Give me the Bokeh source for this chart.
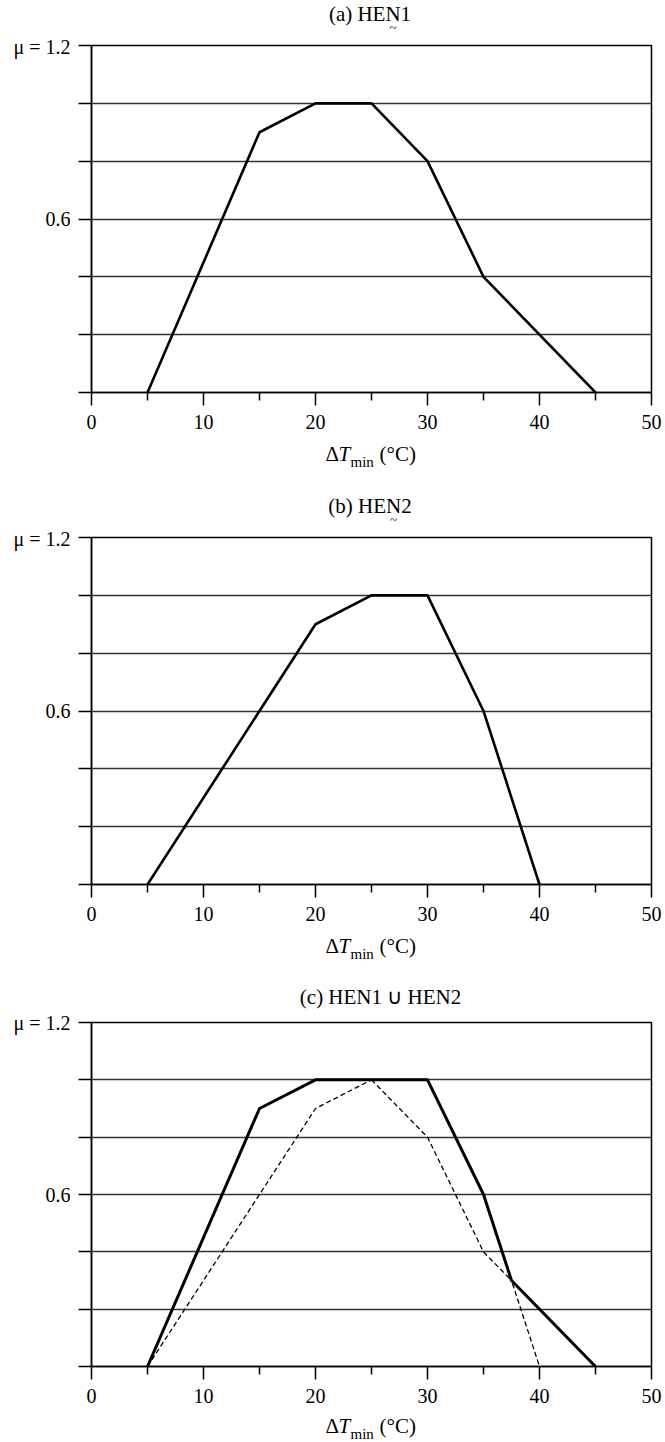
from bokeh.plotting import figure
from bokeh.models import Range1d, FixedTicker
from bokeh.layouts import column
from bokeh.core.properties import value
from bokeh.embed import file_html
from bokeh.resources import INLINE

# ---- data ----
x_hen1 = [5, 15, 20, 25, 30, 35, 45]
mu_hen1 = [0.0, 0.9, 1.0, 1.0, 0.8, 0.4, 0.0]

x_hen2 = [5, 20, 25, 30, 35, 40]
mu_hen2 = [0.0, 0.9, 1.0, 1.0, 0.6, 0.0]

x_union = [5, 15, 20, 25, 30, 35, 37.5, 45]
mu_union = [0.0, 0.9, 1.0, 1.0, 1.0, 0.6, 0.3, 0.0]

x_major_ticks = [0, 10, 20, 30, 40, 50]
x_minor_ticks = [5, 15, 25, 35, 45]
y_grid_ticks = [0, 0.2, 0.4, 0.6, 0.8, 1.0, 1.2]
y_label_ticks = [0.6, 1.2]
y_minor_ticks = [0, 0.2, 0.4, 0.8, 1.0]
y_top_label = "μ = 1.2"

titles = ["(a) HEN1", "(b) HEN2", "(c) HEN1 ∪ HEN2"]

FONT = "'Liberation Serif', 'Times New Roman', serif"
W = 665
LEFT = 91
RIGHT = 14
PX = (W - LEFT - RIGHT) / 50.0
YSHIFT = 8  # empirical offset of alphabetic-baseline text inside the strips


def xd(page_x):
    return (page_x - LEFT) / PX


def text_strip(h):
    s = figure(width=W, height=h, x_range=Range1d(0, 50), y_range=Range1d(h, 0),
               x_axis_type=None, y_axis_type=None, title=None,
               output_backend="svg", toolbar_location=None,
               min_border=0, min_border_left=LEFT, min_border_right=RIGHT,
               min_border_top=0, min_border_bottom=0)
    s.outline_line_color = None
    s.background_fill_color = "white"
    s.border_fill_color = "white"
    return s


def put(s, x, y, t, size="21px", style="normal", align="left"):
    s.text(x=[xd(x)], y=[y - YSHIFT], text=[t], text_font=value(FONT),
           text_font_size=value(size), text_font_style=style,
           text_align=align, text_baseline="alphabetic", text_color="black")


def title_strip(h, title, center, base, tilde_x=None, tilde_y=None):
    s = text_strip(h)
    put(s, center, base, title, align="center")
    if tilde_x is not None:
        s.text(x=[xd(tilde_x)], y=[tilde_y], text=["~"], text_font=value(FONT),
               text_font_size=value("13px"), text_align="center",
               text_baseline="middle", text_color="black")
    return s


def xlabel_strip(h, base, sub):
    s = text_strip(h)
    put(s, 325, base, "Δ")
    put(s, 338, base, "T", style="italic")
    put(s, 350, sub, "min", size="15px")
    put(s, 379, base, "(°C)")
    return s


def plot_panel(top, frame_h, bottom):
    p = figure(width=W, height=top + frame_h + bottom,
               x_range=Range1d(0, 50), y_range=Range1d(0, 1.2),
               output_backend="svg", toolbar_location=None,
               min_border_left=LEFT, min_border_right=RIGHT,
               min_border_top=top, min_border_bottom=bottom)
    p.background_fill_color = "white"
    p.border_fill_color = "white"
    p.outline_line_color = "black"
    p.outline_line_width = 1.5

    xa = p.xaxis[0]
    xa.ticker = FixedTicker(ticks=x_major_ticks, minor_ticks=x_minor_ticks)
    xa.major_tick_out = 13
    xa.major_tick_in = 0
    xa.minor_tick_out = 8
    xa.minor_tick_in = 0
    xa.axis_line_width = 1.5
    xa.major_tick_line_width = 1.5
    xa.minor_tick_line_width = 1.5
    xa.major_label_text_font = FONT
    xa.major_label_text_font_size = "20px"
    xa.major_label_text_color = "black"
    xa.major_label_standoff = 9

    ya = p.yaxis[0]
    ya.ticker = FixedTicker(ticks=y_label_ticks, minor_ticks=y_minor_ticks)
    ya.major_tick_out = 13
    ya.major_tick_in = 0
    ya.minor_tick_out = 13
    ya.minor_tick_in = 0
    ya.axis_line_width = 1.5
    ya.major_tick_line_width = 1.5
    ya.minor_tick_line_width = 1.5
    ya.major_label_text_font = FONT
    ya.major_label_text_font_size = "20px"
    ya.major_label_text_color = "black"
    ya.major_label_standoff = 8
    ya.major_label_overrides = {1.2: y_top_label}

    p.xgrid.visible = False
    p.ygrid.ticker = FixedTicker(ticks=y_grid_ticks)
    p.ygrid.grid_line_color = "#333333"
    p.ygrid.grid_line_width = 1.5
    return p


ta = title_strip(35, titles[0], 369.5, 21, 392.5, 27)
pa = plot_panel(10, 347, 44)
pa.line(x_hen1, mu_hen1, line_color="black", line_width=2.6)
la = xlabel_strip(44, 25, 33)

tb = title_strip(47, titles[1], 369.5, 33, 393.1, 39)
pb = plot_panel(10, 347, 44)
pb.line(x_hen2, mu_hen2, line_color="black", line_width=2.6)
lb = xlabel_strip(42, 25, 33)

tc = title_strip(40, titles[2], 380, 34)
pc = plot_panel(12, 344, 44)
pc.line(x_hen1, mu_hen1, line_color="black", line_width=1.3, line_dash="5 3")
pc.line(x_hen2, mu_hen2, line_color="black", line_width=1.3, line_dash="5 3")
pc.line(x_union, mu_union, line_color="black", line_width=3)
lc = xlabel_strip(32, 23, 31)

layout = column(ta, pa, la, tb, pb, lb, tc, pc, lc, spacing=0)
open("out.html", "w").write(file_html(layout, INLINE))
